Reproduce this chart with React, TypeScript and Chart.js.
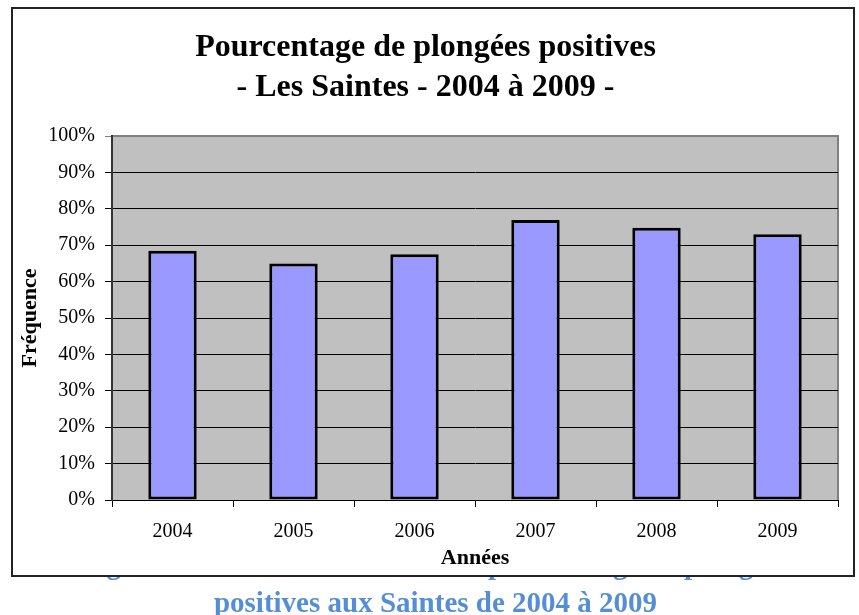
import React, { useEffect, useRef } from "react";
import { Chart, registerables } from "chart.js";

Chart.register(...registerables);

const years = ["2004", "2005", "2006", "2007", "2008", "2009"];
const positivePct = [68.5, 65.0, 67.5, 76.9, 74.8, 73.0];
const titleLines = ["Pourcentage de plongées positives", "- Les Saintes - 2004 à 2009 -"];
const yTitle = "Fréquence";
const xTitle = "Années";
const captionLine1 = "Figure 3 : Evolution annuelle du pourcentage de plongées";
const captionLine2 = "positives aux Saintes de 2004 à 2009";

const SERIF = "'Liberation Serif', 'Times New Roman', serif";

const plotBg = {
  id: "plotBg",
  beforeDraw(chart: any) {
    const { ctx, chartArea } = chart;
    if (!chartArea) return;
    ctx.save();
    ctx.fillStyle = "#C0C0C0";
    ctx.fillRect(chartArea.left, chartArea.top, chartArea.right - chartArea.left, chartArea.bottom - chartArea.top);
    ctx.strokeStyle = "#808080";
    ctx.lineWidth = 2;
    ctx.beginPath();
    ctx.moveTo(chartArea.left, chartArea.top);
    ctx.lineTo(chartArea.right, chartArea.top);
    ctx.lineTo(chartArea.right, chartArea.bottom);
    ctx.stroke();
    ctx.restore();
  },
};

const captionStyle: React.CSSProperties = {
  position: "fixed",
  left: 6,
  width: 859,
  fontFamily: SERIF,
  fontWeight: "bold",
  fontSize: 29,
  lineHeight: "33px",
  textAlign: "center",
  color: "#558ED5",
  whiteSpace: "nowrap",
};

export default function App() {
  const ref = useRef<HTMLCanvasElement | null>(null);

  useEffect(() => {
    if (!ref.current) return;
    const chart = new Chart(ref.current, {
      type: "bar",
      data: {
        labels: years,
        datasets: [
          {
            data: positivePct,
            backgroundColor: "#9999FF",
            borderColor: "#000000",
            borderWidth: 3,
            borderSkipped: false,
            barPercentage: 0.4,
            categoryPercentage: 1,
          },
        ],
      },
      options: {
        animation: false,
        responsive: false,
        maintainAspectRatio: false,
        layout: { padding: { left: 0, right: 15, top: 0, bottom: 0 } },
        plugins: {
          legend: { display: false },
          tooltip: { enabled: false },
          title: {
            display: true,
            text: titleLines,
            color: "#000",
            font: { family: SERIF, size: 32, weight: "bold", lineHeight: 1.25 },
            padding: { top: 19, bottom: 28 },
          },
        },
        scales: {
          x: {
            grid: { offset: true, drawOnChartArea: false, tickLength: 7, color: "#000" },
            border: { color: "#000", width: 1 },
            ticks: { color: "#000", font: { family: SERIF, size: 20 }, padding: 13, maxRotation: 0 },
            title: {
              display: true,
              text: xTitle,
              color: "#000",
              font: { family: SERIF, size: 22, weight: "bold" },
              padding: { top: 0, bottom: 3 },
            },
            afterFit: (s: any) => {
              s.height = 75;
            },
          },
          y: {
            min: 0,
            max: 100,
            grid: {
              tickLength: 7,
              color: (c: any) => (c.tick && c.tick.value === 100 ? "#808080" : "#000"),
            },
            border: { color: "#333", width: 2 },
            ticks: {
              stepSize: 10,
              color: "#000",
              font: { family: SERIF, size: 20 },
              padding: 10,
              callback: (v: any) => v + "%",
            },
            title: {
              display: true,
              text: yTitle,
              color: "#000",
              font: { family: SERIF, size: 22, weight: "bold" },
              padding: { top: 4, bottom: 0 },
            },
            afterFit: (s: any) => {
              s.width = 99;
            },
          },
        },
      },
      plugins: [plotBg],
    } as any);
    return () => chart.destroy();
  }, []);

  return (
    <div>
      <div style={{ ...captionStyle, top: 548 }}>{captionLine1}</div>
      <div style={{ ...captionStyle, top: 586 }}>{captionLine2}</div>
      <div
        style={{
          position: "fixed",
          left: 11,
          top: 7,
          width: 844,
          height: 570,
          boxSizing: "border-box",
          border: "2px solid #222",
          background: "#fff",
          zIndex: 2,
        }}
      >
        <canvas ref={ref} width={840} height={566} style={{ display: "block", width: 840, height: 566 }} />
      </div>
    </div>
  );
}
